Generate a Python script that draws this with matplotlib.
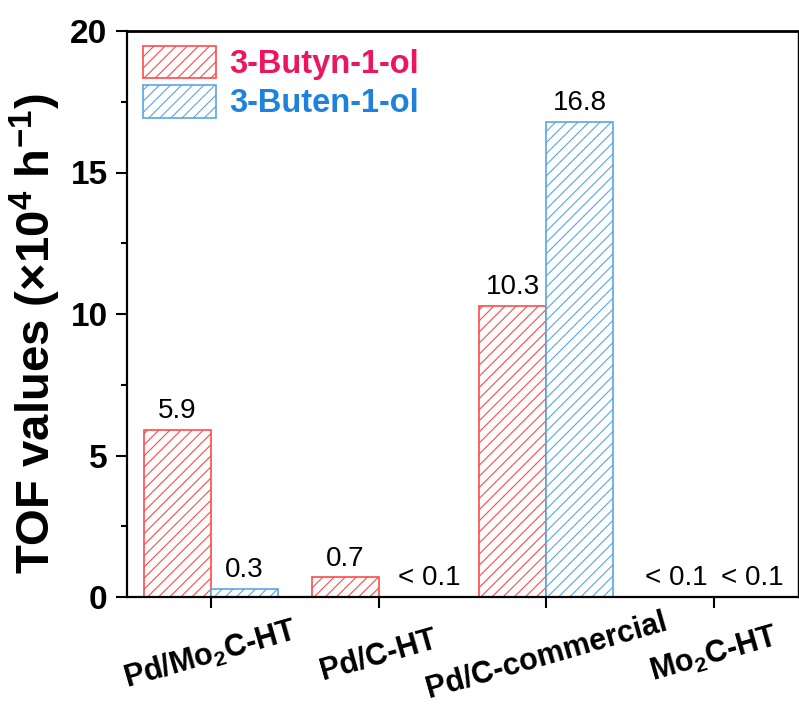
import matplotlib
matplotlib.use("Agg")
import matplotlib.pyplot as plt
import numpy as np
from matplotlib.ticker import MultipleLocator

# Catalyst categories and turnover frequencies (x10^4 h^-1)
catalysts = ["Pd/Mo$_\\mathbf{2}$C-HT", "Pd/C-HT", "Pd/C-commercial", "Mo$_\\mathbf{2}$C-HT"]
butynol = [5.9, 0.7, 10.3, 0.0]
butenol = [0.3, 0.0, 16.8, 0.0]
butynol_labels = ["5.9", "0.7", "10.3", "< 0.1"]
butenol_labels = ["0.3", "< 0.1", "16.8", "< 0.1"]
series_names = ["3-Butyn-1-ol", "3-Buten-1-ol"]

plt.rcParams["font.family"] = ["Liberation Sans", "DejaVu Sans"]
plt.rcParams["mathtext.fontset"] = "custom"
plt.rcParams["mathtext.rm"] = "Liberation Sans"
plt.rcParams["mathtext.bf"] = "Liberation Sans:bold"
plt.rcParams["hatch.linewidth"] = 0.8

red_edge = "#FF4A4A"
blue_edge = "#5AA5E6"
red_text = "#EC1560"
blue_text = "#1E82DC"

fig = plt.figure(figsize=(7.99, 7.06), dpi=100)
ax = fig.add_axes([127 / 799, 1 - 597 / 706, 671 / 799, 566 / 706])

x = np.arange(len(catalysts))
w = 0.4
b1 = ax.bar(x - w / 2, butynol, w, facecolor="white", edgecolor=red_edge,
            hatch="///", linewidth=1.2, label=series_names[0])
b2 = ax.bar(x + w / 2, butenol, w, facecolor="white", edgecolor=blue_edge,
            hatch="///", linewidth=1.2, label=series_names[1])

# the "< 0.1" tags are nudged apart so they do not collide
nudge = {(1, 1): 12, (3, 0): -3, (3, 1): 3}
for s, (bars, labels) in enumerate(((b1, butynol_labels), (b2, butenol_labels))):
    for i, (rect, lab) in enumerate(zip(bars, labels)):
        ax.annotate(lab, (rect.get_x() + rect.get_width() / 2, rect.get_height()),
                    xytext=(nudge.get((i, s), 0), 4), textcoords="offset points",
                    ha="center", va="bottom", fontsize=20, color="black")

ax.set_xlim(-0.5, 3.5)
ax.set_ylim(0, 20)
ax.yaxis.set_major_locator(MultipleLocator(5))
ax.yaxis.set_minor_locator(MultipleLocator(2.5))
ax.set_xticks(x)
ax.set_xticklabels(catalysts, rotation=16, ha="center", va="center",
                   fontsize=22, fontweight="bold")
for t in ax.get_yticklabels():
    t.set_fontweight("bold")
ax.tick_params(axis="y", which="major", direction="out", length=8, width=1.5,
               labelsize=24, pad=6)
ax.tick_params(axis="y", which="minor", direction="out", length=4, width=1.5)
ax.tick_params(axis="x", which="major", direction="out", length=8, width=1.5,
               pad=34)
ax.tick_params(axis="x", which="minor", bottom=False)

ax.spines["left"].set_linewidth(1.6)
ax.spines["bottom"].set_linewidth(1.6)
ax.spines["top"].set_linewidth(2.0)
ax.spines["right"].set_linewidth(1.0)

ax.set_ylabel("TOF values (\u00d710$^\\mathbf{4}$ h$^\\mathbf{-1}$)",
              fontsize=34, fontweight="bold")
ax.yaxis.set_label_coords(-64 / 671, 0.465)

leg = ax.legend(loc="upper left", bbox_to_anchor=(16 / 671, 1 - 15 / 566),
                frameon=False, borderpad=0, borderaxespad=0,
                handlelength=2.25, handleheight=1.15, labelspacing=0.15,
                handletextpad=0.4, prop={"size": 23.5, "weight": "bold"})
for txt, col in zip(leg.get_texts(), (red_text, blue_text)):
    txt.set_color(col)

fig.savefig("out.png", dpi=100)
